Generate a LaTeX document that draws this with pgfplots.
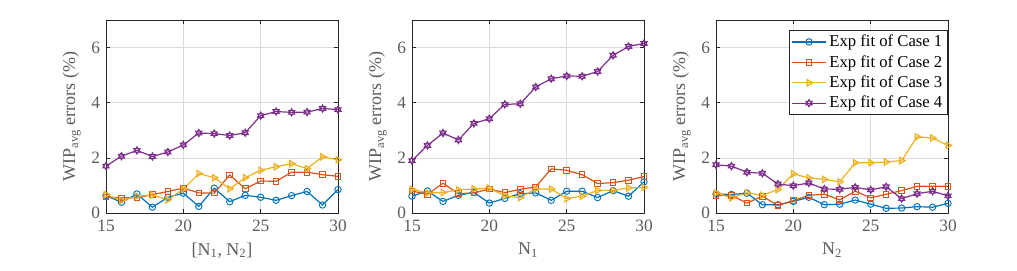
\documentclass[border=0pt]{standalone}
\usepackage{fontspec}
\setmainfont{Liberation Serif}
\usepackage{pgfplots}
\usepackage{pgfplotstable}
\pgfplotsset{compat=1.18}

\definecolor{mA}{rgb}{0,0.447,0.741}
\definecolor{mB}{rgb}{0.85,0.325,0.098}
\definecolor{mC}{rgb}{0.929,0.694,0.125}
\definecolor{mD}{rgb}{0.494,0.184,0.556}
\definecolor{axgray}{rgb}{0.15,0.15,0.15}

\pgfdeclareplotmark{hexagram}{%
 \pgfpathmoveto{\pgfqpointpolar{90}{\pgfplotmarksize}}%
 \pgfpathlineto{\pgfqpointpolar{210}{\pgfplotmarksize}}%
 \pgfpathlineto{\pgfqpointpolar{330}{\pgfplotmarksize}}%
 \pgfpathclose
 \pgfpathmoveto{\pgfqpointpolar{270}{\pgfplotmarksize}}%
 \pgfpathlineto{\pgfqpointpolar{30}{\pgfplotmarksize}}%
 \pgfpathlineto{\pgfqpointpolar{150}{\pgfplotmarksize}}%
 \pgfpathclose
 \pgfusepathqstroke}

\pgfplotstableread{
x c1 c2 c3 c4
15 0.63 0.58 0.67 1.70
16 0.39 0.55 0.45 2.06
17 0.69 0.55 0.61 2.27
18 0.21 0.67 0.65 2.05
19 0.57 0.78 0.48 2.21
20 0.72 0.90 0.87 2.47
21 0.24 0.73 1.43 2.90
22 0.90 0.72 1.28 2.88
23 0.41 1.38 0.88 2.81
24 0.64 0.88 1.28 2.91
25 0.57 1.16 1.55 3.53
26 0.46 1.15 1.68 3.68
27 0.63 1.48 1.79 3.65
28 0.78 1.48 1.61 3.66
29 0.29 1.39 2.04 3.79
30 0.85 1.33 1.93 3.75
}\tabA

\pgfplotstableread{
x c1 c2 c3 c4
15 0.61 0.80 0.86 1.90
16 0.80 0.67 0.73 2.45
17 0.42 1.08 0.74 2.90
18 0.64 0.70 0.84 2.65
19 0.75 0.73 0.87 3.25
20 0.36 0.87 0.90 3.42
21 0.53 0.74 0.62 3.94
22 0.70 0.86 0.56 3.96
23 0.73 0.95 0.87 4.57
24 0.46 1.60 0.87 4.87
25 0.79 1.55 0.52 4.97
26 0.79 1.39 0.61 4.96
27 0.56 1.07 0.82 5.13
28 0.81 1.10 0.82 5.72
29 0.61 1.19 0.91 6.04
30 1.13 1.32 0.93 6.15
}\tabB

\pgfplotstableread{
x c1 c2 c3 c4
15 0.69 0.63 0.73 1.75
16 0.67 0.64 0.55 1.70
17 0.72 0.36 0.73 1.48
18 0.30 0.61 0.64 1.44
19 0.30 0.27 0.85 1.05
20 0.42 0.45 1.42 0.99
21 0.57 0.64 1.27 1.09
22 0.30 0.68 1.22 0.87
23 0.32 0.48 1.13 0.86
24 0.47 0.79 1.82 0.93
25 0.32 0.55 1.82 0.84
26 0.17 0.68 1.85 0.95
27 0.18 0.81 1.90 0.52
28 0.23 0.97 2.76 0.70
29 0.21 0.97 2.72 0.79
30 0.35 0.97 2.45 0.62
}\tabC

\pgfplotsset{
  myaxis/.style={
    scale only axis, width=174pt, height=144.75pt,
    anchor=south west,
    xmin=15, xmax=30, ymin=0, ymax=7,
    xtick={15,20,25,30}, ytick={0,2,4,6},
    grid=major, major grid style={gray!28, line width=0.4pt},
    axis line style={axgray, line width=0.5pt},
    tick style={axgray, line width=0.5pt}, tick align=inside,
    major tick length=3pt,
    ticklabel style={font=\fontsize{13}{15}\selectfont, text=axgray!75},
    xticklabel style={yshift=-2pt},
    yticklabel style={xshift=-1pt},
    label style={font=\fontsize{13.5}{16}\selectfont, text=axgray!75},
    xlabel style={yshift=-1pt},
    ylabel style={yshift=1pt},
    /pgf/number format/assume math mode=true,
    ylabel={WIP\textsubscript{avg} errors (\%)},
    every axis plot/.append style={line width=0.9pt, mark size=2.4pt, mark options={solid, line width=0.7pt}},
    legend cell align=left,
  },
  s1/.style={color=mA, mark=o},
  s2/.style={color=mB, mark=square, mark size=2.1pt},
  s3/.style={color=mC, mark=triangle, mark options={rotate=-90}, mark size=2.7pt},
  s4/.style={color=mD, mark=hexagram, mark size=2.8pt},
}

\begin{document}
\begin{tikzpicture}
\path[use as bounding box] (0,0) rectangle (762.75pt,203.25pt);

\begin{axis}[myaxis, at={(79.5pt,43.5pt)}, xlabel={[N\textsubscript{1}, N\textsubscript{2}]}]
\addplot[s1] table[x=x,y=c1]{\tabA};
\addplot[s2] table[x=x,y=c2]{\tabA};
\addplot[s3] table[x=x,y=c3]{\tabA};
\addplot[s4] table[x=x,y=c4]{\tabA};
\end{axis}

\begin{axis}[myaxis, at={(309pt,43.5pt)}, xlabel={N\textsubscript{1}}]
\addplot[s1] table[x=x,y=c1]{\tabB};
\addplot[s2] table[x=x,y=c2]{\tabB};
\addplot[s3] table[x=x,y=c3]{\tabB};
\addplot[s4] table[x=x,y=c4]{\tabB};
\end{axis}

\begin{axis}[myaxis, at={(537pt,43.5pt)}, xlabel={N\textsubscript{2}},
  legend style={at={(0.997,0.948)}, anchor=north east, draw=axgray, line width=0.5pt,
    font=\fontsize{12.5}{14}\selectfont, text=black, inner sep=1.5pt, row sep=1pt},
  legend image code/.code={\draw[mark repeat=2,mark phase=2] plot coordinates {(0cm,0cm) (0.45cm,0cm) (0.9cm,0cm)};}]
\addplot[s1] table[x=x,y=c1]{\tabC};
\addplot[s2] table[x=x,y=c2]{\tabC};
\addplot[s3] table[x=x,y=c3]{\tabC};
\addplot[s4] table[x=x,y=c4]{\tabC};
\legend{Exp fit of Case 1, Exp fit of Case 2, Exp fit of Case 3, Exp fit of Case 4}
\end{axis}
\end{tikzpicture}
\end{document}
